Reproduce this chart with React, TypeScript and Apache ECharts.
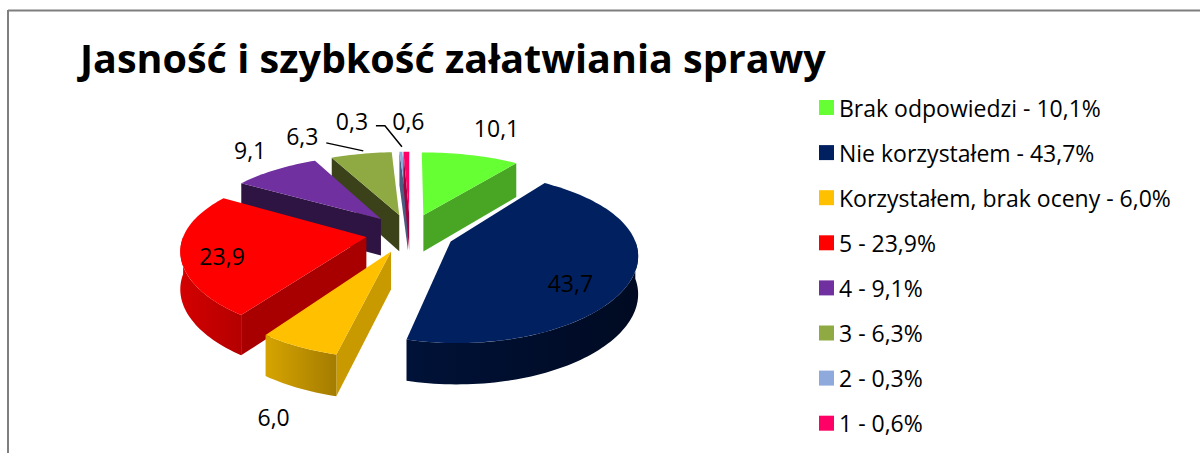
import React, { useEffect, useRef } from "react";
import * as echarts from "echarts";

const titleText = "Jasność i szybkość załatwiania sprawy";
const categories = [
  "Brak odpowiedzi",
  "Nie korzystałem",
  "Korzystałem, brak oceny",
  "5",
  "4",
  "3",
  "2",
  "1",
];
const values = [10.1, 43.7, 6.0, 23.9, 9.1, 6.3, 0.3, 0.6];

const topColors = ["#66FF33", "#002060", "#FFC000", "#FF0000", "#7030A0", "#8FAA42", "#8EA9DB", "#FF0066"];
const sideColors = ["#48A624", "#000E30", "#C99A00", "#A80000", "#2E1442", "#3B421A", "#4A5C80", "#A00040"];
const wallLight = ["#48A624", "#001238", "#D6A400", "#D40000", "#3A1A55", "#4A5222", "#5A6E98", "#C00050"];
const wallDark = ["#3A8A1C", "#000A22", "#A47C00", "#B40000", "#2A1040", "#353B16", "#4A5C80", "#A00040"];

// label placement: anchor on slice (radius factor, top/bottom) + pixel nudge; optional leader offsets
const labelLayout: any[] = [
  { rf: 1.0, bottom: false, dx: 26, dy: -27 },
  { rf: 0.6, bottom: false, dx: 14, dy: 20 },
  { rf: 1.0, bottom: true, dx: -25, dy: 29 },
  { rf: 0.6, bottom: false, dx: -34, dy: 9 },
  { rf: 1.0, bottom: false, dx: -25, dy: -20 },
  { rf: 1.0, bottom: false, dx: -59, dy: -18, lead: [["l", 24, 7], ["a", 2, -3]] },
  { rf: 1.0, bottom: false, dx: -49, dy: -31, lead: [["l", 24, 5], ["l", 33, 5], ["a", 1, -5]] },
  { rf: 1.0, bottom: false, dx: 2, dy: -31 },
];

const GEO = { cx: 410, cy: 233, rx: 182, ry: 80, kx: 0.14, ky: 0.18, depth: 37, explode: 0.243 };
const FONT = "'Open Sans', Lato, sans-serif";

const total = values.reduce((a, b) => a + b, 0);
const fmt = (v: number) => v.toFixed(1).replace(".", ",");

function proj(u: number, v: number, h: number): number[] {
  const sx = 1 / (1 + GEO.kx * v);
  const sy = 1 / (1 + GEO.ky * v);
  return [GEO.cx + GEO.rx * u * sx, GEO.cy - GEO.ry * v * sy + GEO.depth * h * Math.sqrt(sy)];
}

function sliceElements(i: number, value: number) {
  const before = values.slice(0, i).reduce((a, b) => a + b, 0);
  const a1 = (before / total) * 360;
  const a2 = ((before + value) / total) * 360;
  const mid = (a1 + a2) / 2;
  const rad = (d: number) => (d * Math.PI) / 180;
  const eu = GEO.explode * Math.sin(rad(mid));
  const ev = GEO.explode * Math.cos(rad(mid));
  const pt = (r: number, d: number, h: number) =>
    proj(eu + r * Math.sin(rad(d)), ev + r * Math.cos(rad(d)), h);
  const arc = (from: number, to: number, h: number) => {
    const pts: number[][] = [];
    const n = Math.max(2, Math.ceil(Math.abs(to - from) / 1.5));
    for (let j = 0; j <= n; j++) pts.push(pt(1, from + ((to - from) * j) / n, h));
    return pts;
  };
  const children: any[] = [];
  if (Math.sin(rad(a1)) < -0.001) {
    children.push({
      type: "polygon",
      shape: { points: [pt(0, mid, 0), pt(1, a1, 0), pt(1, a1, 1), pt(0, mid, 1)] },
      style: { fill: sideColors[i] },
    });
  }
  if (Math.sin(rad(a2)) > 0.001) {
    children.push({
      type: "polygon",
      shape: { points: [pt(0, mid, 0), pt(1, a2, 0), pt(1, a2, 1), pt(0, mid, 1)] },
      style: { fill: sideColors[i] },
    });
  }
  const lo = Math.max(a1, 90);
  const hi = Math.min(a2, 270);
  if (lo < hi) {
    const top = arc(lo, hi, 0);
    const bot = arc(hi, lo, 1);
    children.push({
      type: "polygon",
      shape: { points: top.concat(bot) },
      style: {
        fill: new echarts.graphic.LinearGradient(0, 0, 1, 0, [
          { offset: 0, color: wallLight[i] },
          { offset: 1, color: wallDark[i] },
        ]),
      },
    });
  }
  children.push({
    type: "polygon",
    shape: { points: [pt(0, mid, 0)].concat(arc(a1, a2, 0)) },
    style: { fill: topColors[i] },
  });
  const L = labelLayout[i];
  const anchor = pt(L.rf, mid, L.bottom ? 1 : 0);
  const lx = anchor[0] + L.dx;
  const ly = anchor[1] + L.dy;
  if (L.lead) {
    const pts = L.lead.map((p: any[]) =>
      p[0] === "l" ? [lx + p[1], ly + p[2]] : [anchor[0] + p[1], anchor[1] + p[2]]
    );
    children.push({
      type: "polyline",
      shape: { points: pts },
      style: { stroke: "#000", lineWidth: 1.5, fill: null },
      z2: 50,
    });
  }
  children.push({
    type: "text",
    x: lx,
    y: ly,
    z2: 60,
    style: {
      text: fmt(value),
      fill: "#000",
      fontSize: 23,
      fontFamily: FONT,
      align: "center",
      verticalAlign: "middle",
    },
  });
  return children;
}

function frontness(i: number) {
  const before = values.slice(0, i).reduce((a, b) => a + b, 0);
  const mid = ((before + values[i] / 2) / total) * 2 * Math.PI;
  return Math.round((1 - Math.cos(mid)) * 10);
}

export default function App() {
  const ref = useRef<HTMLDivElement>(null);
  useEffect(() => {
    if (!ref.current) return;
    const chart = echarts.init(ref.current, undefined, { renderer: "svg" });
    const series = categories.map((name, i) => ({
      type: "custom",
      name,
      coordinateSystem: "none",
      z: 2 + frontness(i),
      itemStyle: { color: topColors[i] },
      data: [[values[i]]],
      renderItem: (_params: any, api: any) => ({
        type: "group",
        children: sliceElements(i, api.value(0)),
      }),
    }));
    chart.setOption({
      animation: false,
      backgroundColor: "#ffffff",
      title: {
        text: titleText,
        left: 75,
        top: 33,
        textStyle: { fontSize: 39.5, fontWeight: "bold", fontFamily: FONT, color: "#000" },
      },
      legend: {
        orient: "vertical",
        left: 814,
        top: 91,
        icon: "rect",
        itemWidth: 15,
        itemHeight: 15,
        itemGap: 22.1,
        data: categories,
        formatter: (name: string) => {
          const idx = categories.indexOf(name);
          return `${name} - ${fmt(values[idx])}%`;
        },
        textStyle: { fontSize: 23, fontFamily: FONT, color: "#000", lineHeight: 22 },
      },
      graphic: [
        { type: "line", shape: { x1: 8, y1: 10.5, x2: 1200, y2: 10.5 }, style: { stroke: "#7f7f7f", lineWidth: 2 } },
        { type: "line", shape: { x1: 8, y1: 10, x2: 8, y2: 453 }, style: { stroke: "#7f7f7f", lineWidth: 2 } },
      ],
      series,
    });
    return () => chart.dispose();
  }, []);
  return (
    <div
      ref={ref}
      style={{ position: "fixed", left: 0, top: 0, width: 1200, height: 453 }}
    />
  );
}
